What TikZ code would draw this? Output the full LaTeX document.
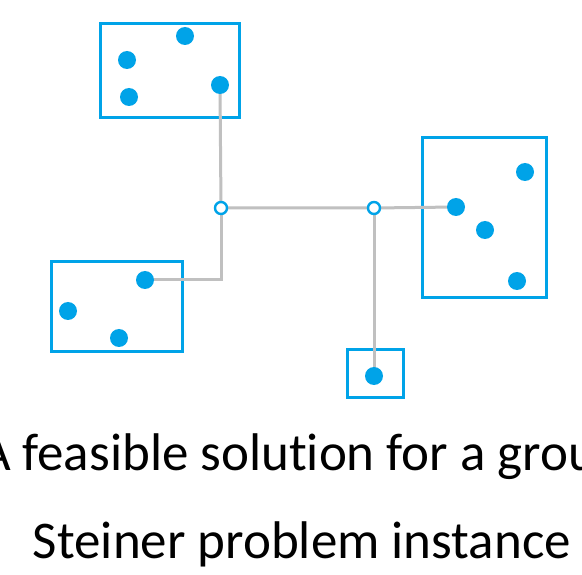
\documentclass[tikz,border=0pt]{standalone}
\usepackage{fontspec}
\setmainfont{Carlito}[RawFeature=-liga]
\definecolor{groupblue}{RGB}{0,163,232}
\definecolor{treegray}{RGB}{192,192,192}
\tikzset{
  groupbox/.style={draw=groupblue, line width=3pt},
  terminal/.style={circle, fill=groupblue, inner sep=0pt, minimum size=18pt},
  steinerpt/.style={circle, draw=groupblue, fill=white, line width=2.4pt, inner sep=0pt, minimum size=12pt},
  treeedge/.style={draw=treegray, line width=3pt},
  caption/.style={font=\fontsize{53}{64}\selectfont, anchor=base},
}
\begin{document}
\begin{tikzpicture}[x=1pt,y=-1pt]
\useasboundingbox (0,0) rectangle (582,575);
\clip (0,0) rectangle (582,575);
\fill[white] (0,0) rectangle (582,575);

% groups
\draw[groupbox] (100,24) rectangle (239,118);
\draw[groupbox] (422,138) rectangle (546,298);
\draw[groupbox] (51,262) rectangle (182,352);
\draw[groupbox] (347,350) rectangle (403,397);

% tree junctions and the terminals it reaches
\coordinate (s1) at (221,208);
\coordinate (s2) at (374,208);
\coordinate (bend) at (221,280);
\coordinate (ta) at (220,85);
\coordinate (tb) at (456,207);
\coordinate (tc) at (145,280);
\coordinate (td) at (374,376);

% Steiner tree edges, under the points
\path[treeedge] (ta) -- (s1) -- (s2) -- (tb);
\path[treeedge] (s1) -- (bend) -- (tc);
\path[treeedge] (s2) -- (td);

% terminals of group A
\node[terminal] (a1) at (185,36) {};
\node[terminal] (a2) at (127,60) {};
\node[terminal] (a3) at (129,97) {};
\node[terminal] (a4) at (ta) {};
% terminals of group B
\node[terminal] (b1) at (525,172) {};
\node[terminal] (b2) at (tb) {};
\node[terminal] (b3) at (485,230) {};
\node[terminal] (b4) at (517,281) {};
% terminals of group C
\node[terminal] (c1) at (tc) {};
\node[terminal] (c2) at (68,311) {};
\node[terminal] (c3) at (119,338) {};
% terminal of group D
\node[terminal] (d1) at (td) {};

% Steiner points
\node[steinerpt] (p1) at (s1) {};
\node[steinerpt] (p2) at (s2) {};

% caption
\node[caption] (cap1) at (302,470) {A feasible solution for a group};
\node[caption] (cap2) at (302,558) {Steiner problem instance};
\end{tikzpicture}
\end{document}
